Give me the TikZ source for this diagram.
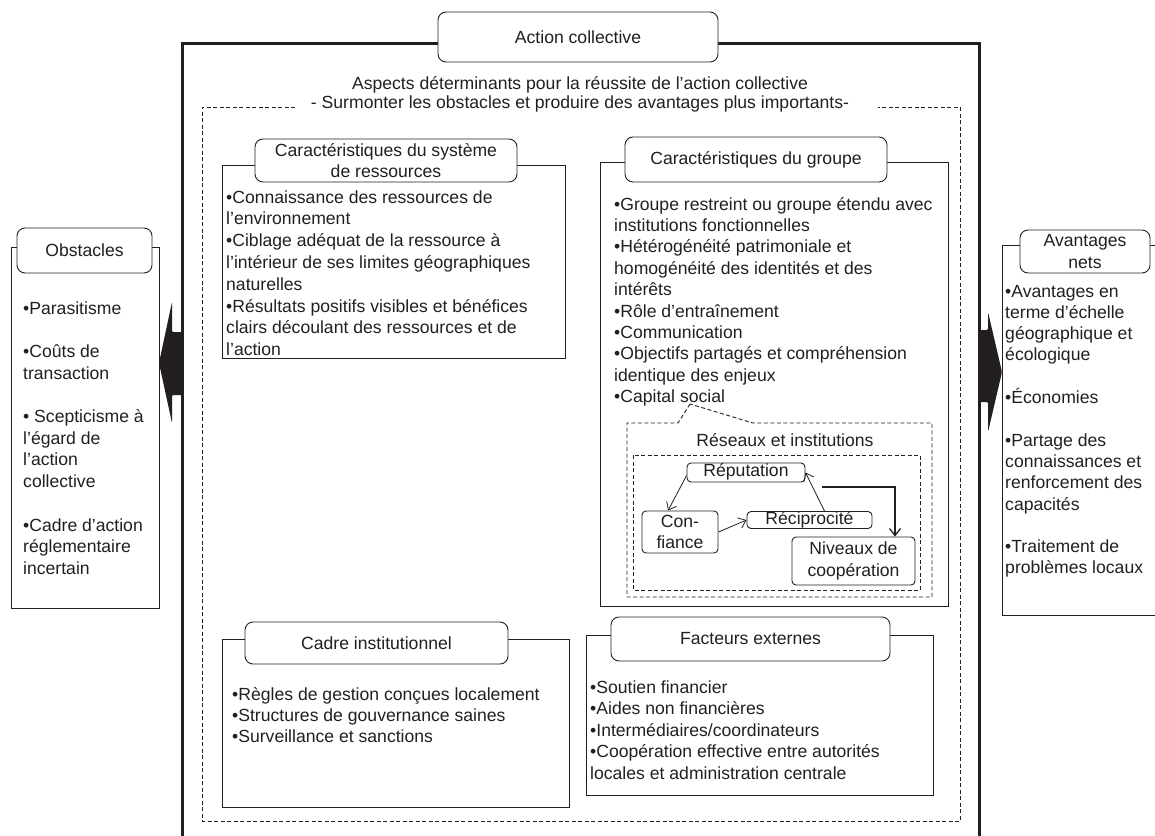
\documentclass[tikz,border=0pt]{standalone}
\usepackage{fontspec}
\setmainfont{Liberation Sans}
\usetikzlibrary{arrows.meta}
\definecolor{ink}{RGB}{35,31,32}
\newcommand\lns[2]{\parbox[t]{420pt}{\raggedright\baselineskip=#1pt #2}}
\begin{document}
\begin{tikzpicture}[x=1pt,y=-1pt,color=ink,
  font=\fontsize{17.6}{21.6}\selectfont,
  hdr/.style={draw, rounded corners=8pt, fill=white, align=center, inner sep=0pt, line width=0.9pt},
  body/.style={draw, rectangle, anchor=north west, inner sep=0pt, line width=0.9pt},
  txt/.style={anchor=base west, inner sep=0pt},
  small/.style={draw, rounded corners=4pt, fill=white, align=center, inner sep=0pt, line width=0.9pt},
  dsh/.style={dash pattern=on 4pt off 2.5pt, line width=0.9pt},
  flow/.style={-{Straight Barb[length=7pt,width=11pt]}, line width=0.8pt},
  bigarrow/.style={fill=ink, rounded corners=1.2pt}]
\useasboundingbox (0,0) rectangle (1155,835);
\clip (0,0) rectangle (1155,835);

% outer thick frame
\draw[line width=3pt] (182,840) -- (182,43) -- (979,43) -- (979,840);

% dashed frame
\coordinate (dfa) at (295,107);
\coordinate (dfb) at (878,107);
\draw[dsh] (dfa) -- (202,107) -- (202,821) -- (960,821) -- (960,107) -- (dfb);

% header of the frame
\node[hdr, minimum width=280pt, minimum height=50pt] (ac) at (578,37) {Action collective};
\node (aspects) at (580,85) {Aspects déterminants pour la réussite de l’action collective};
\node (surm) at (580,104) {- Surmonter les obstacles et produire des avantages plus importants-};

% Obstacles
\node[body, minimum width=148pt, minimum height=361pt] (obsbody) at (11,247) {};
\node[hdr, minimum width=135pt, minimum height=45pt] (obshdr) at (84.5,250.5) {Obstacles};
\node[txt] (obstxt) at (23,314) {\lns{21.7}{•Parasitisme\\[21.7pt]•Coûts de\\transaction\\[21.7pt]• Scepticisme à\\l’égard de\\l’action\\collective\\[21.7pt]•Cadre d’action\\réglementaire\\incertain}};

% Avantages nets
\node[body, minimum width=200pt, minimum height=370pt] (avbody) at (1002,245) {};
\node[hdr, minimum width=130pt, minimum height=43pt] (avhdr) at (1085,251.5) {Avantages\\nets};
\node[txt] (avtxt) at (1005,297) {\lns{21.3}{•Avantages en\\terme d’échelle\\géographique et\\écologique\\[21.3pt]•Économies\\[21.3pt]•Partage des\\connaissances et\\renforcement des\\capacités\\[21.3pt]•Traitement de\\problèmes locaux}};

% big arrows
\fill[bigarrow] (182,332) -- (172,332) -- (172,302) -- (159,363) -- (172,423) -- (172,395) -- (182,395) -- cycle;
\fill[bigarrow] (979,330) -- (988,330) -- (988,312) -- (1002,372) -- (988,432) -- (988,402) -- (979,402) -- cycle;

% Caractéristiques du système de ressources
\node[body, minimum width=343pt, minimum height=193pt] (resbody) at (222,165) {};
\node[hdr, minimum width=262pt, minimum height=43pt] (reshdr) at (386,160.5) {Caractéristiques du système\\de ressources};
\node[txt] (restxt) at (226,203) {\lns{21.8}{•Connaissance des ressources de\\l’environnement\\•Ciblage adéquat de la ressource à\\l’intérieur de ses limites géographiques\\naturelles\\•Résultats positifs visibles et bénéfices\\clairs découlant des ressources et de\\l’action}};

% Caractéristiques du groupe
\node[body, minimum width=348pt, minimum height=444pt] (grpbody) at (600,162) {};
\node[hdr, minimum width=262pt, minimum height=45pt] (grphdr) at (756,159.5) {Caractéristiques du groupe};
\node[txt] (grptxt) at (614,210) {\lns{21.4}{•Groupe restreint ou groupe étendu avec\\institutions fonctionnelles\\•Hétérogénéité patrimoniale et\\homogénéité des identités et des\\intérêts\\•Rôle d’entraînement\\•Communication\\•Objectifs partagés et compréhension\\identique des enjeux\\•Capital social}};

% Réseaux et institutions (callout)
\coordinate (apex) at (690,404);
\draw[dsh] (apex) -- (678,423) -- (627,423) -- (627,597) -- (932,597) -- (932,423) -- (753,423) -- cycle;
\node (restitle) at (785,440) {Réseaux et institutions};
\draw[dsh] (633,455) rectangle (920,590);

\node[small, minimum width=118pt, minimum height=19pt, text height=11pt, text depth=3pt] (rep) at (746,472.5) {Réputation};
\node[small, minimum width=76pt, minimum height=42pt] (conf) at (680,532) {Con-\\fiance};
\node[small, minimum width=125pt, minimum height=17pt, text height=11pt, text depth=3pt] (recip) at (809.5,520) {Réciprocité};
\node[small, minimum width=123pt, minimum height=48pt] (niv) at (853.5,561) {Niveaux de\\coopération};

\draw[flow] ([yshift=-3pt]rep.west) -- ([xshift=-12pt]conf.north);
\draw[flow] (conf.east) -- (recip.west);
\draw[flow] ([xshift=15pt]recip.north) -- (rep.east);
\coordinate (elb) at (822,487);
\draw[flow, line width=1.3pt] (elb) -| ([xshift=41.5pt]niv.north);

% Cadre institutionnel
\node[body, minimum width=347pt, minimum height=168pt] (cadbody) at (222,639) {};
\node[hdr, minimum width=263pt, minimum height=42pt] (cadhdr) at (376.5,643) {Cadre institutionnel};
\node[txt] (cadtxt) at (232,700) {\lns{21}{•Règles de gestion conçues localement\\•Structures de gouvernance saines\\•Surveillance et sanctions}};

% Facteurs externes
\node[body, minimum width=347pt, minimum height=160pt] (facbody) at (586,635) {};
\node[hdr, minimum width=279pt, minimum height=44pt] (fachdr) at (750.5,639) {Facteurs externes};
\node[txt] (factxt) at (590,693) {\lns{21.5}{•Soutien financier\\•Aides non financières\\•Intermédiaires/coordinateurs\\•Coopération effective entre autorités\\locales et administration centrale}};
\end{tikzpicture}
\end{document}
